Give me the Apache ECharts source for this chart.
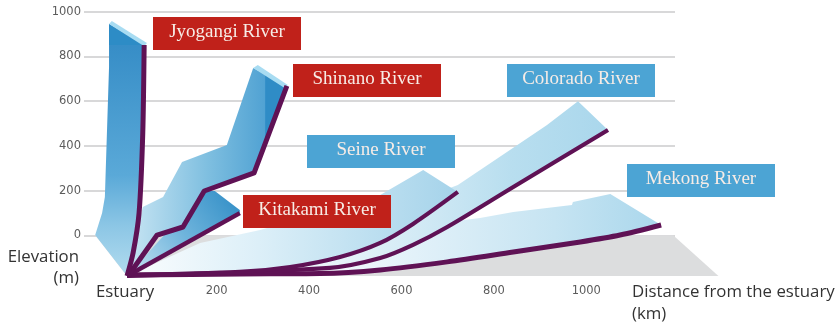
<!DOCTYPE html>
<html>
<head>
<meta charset="utf-8">
<style>html,body{margin:0;padding:0;background:#fff}#c{width:839px;height:327px}</style>
<script src="https://cdn.jsdelivr.net/npm/echarts@6/dist/echarts.min.js"></script>
</head>
<body>
<div id="c"></div>
<script>
// Axis ticks
const distanceTicks = [200, 400, 600, 800, 1000];
const elevationTicks = [0, 200, 400, 600, 800, 1000];

// River names for the tags
const riverNames = ['Jyogangi River', 'Shinano River', 'Kitakami River', 'Seine River', 'Colorado River', 'Mekong River'];

// Profiles as [km, m]; the front edge of each ribbon is the riverbed line
const jyogangiFront = [[6,-182],[19,-79],[32,100],[40,457],[43,851]];
const jyogangiBack = [[6,-182],[-63,1],[-48,100],[-42,171],[-33,753],[-33,945]];
const jyogangiCap = [[-33,945],[-27,958],[49,860],[43,846]];
const jyogangiPanel = [[-33,945],[43,851],[-33,851]];

const shinanoFront = [[8,-182],[71,1],[127,37],[173,198],[281,279],[352,668]];
const shinanoBack = [[8,-182],[40,127],[84,171],[125,328],[222,404],[279,748]];
const shinanoCap = [[279,748],[289,762],[354,672],[348,658]];
const shinanoPanel = [[305,717],[348,658],[352,668],[305,408]];

const kitakamiFront = [[6,-182],[250,99]];
const kitakamiBack = [[6,-182],[173,198],[196,198],[250,113]];

const seineFront = [[6,-178],[250,-164],[359,-142],[467,-97],[554,-34],[625,51],[722,194]];
const seineBack = [[6,-178],[45,-146],[164,-34],[294,24],[554,180],[647,292]];

const coloradoFront = [[6,-182],[445,-146],[554,-102],[625,-43],[699,37],[842,216],[1047,471]];
const coloradoBack = [[6,-182],[380,-43],[722,225],[850,403],[915,493],[982,600]];

const mekongFront = [[6,-178],[250,-173],[424,-171],[554,-155],[699,-119],[842,-75],[987,-30],[1073,1],[1162,46]];
const mekongBack = [[6,-178],[294,-66],[597,33],[770,77],[842,104],[969,136],[971,149],[1052,185]];

const floorPlane = [[-63,0],[1188,0],[1286,-182],[6,-182]];

// Fill helpers
const grad = (x, y, x2, y2, stops) => ({
  type: 'linear', x, y, x2, y2,
  colorStops: stops.map(([offset, color]) => ({ offset, color }))
});

// One closed polygon drawn through the axis scales
function polygon(points, fill, z) {
  return {
    type: 'custom', z, silent: true, animation: false,
    data: points,
    renderItem(params, api) {
      if (params.dataIndex !== 0) return null;
      return { type: 'polygon', shape: { points: points.map(p => api.coord(p)) }, style: { fill } };
    }
  };
}
const ribbon = (front, back, fill, z) => polygon(back.concat(front.slice().reverse()), fill, z);

// One riverbed line on top of the ribbons
function bed(data, width, smooth) {
  return {
    type: 'line', z: 20, silent: true, animation: false, symbol: 'none', data, smooth,
    lineStyle: { color: '#5f1255', width, cap: 'butt', join: 'round' }
  };
}

const red = '#c0211a', blue = '#4ca4d4';
const tagSpots = [
  [153, 17, red], [293, 64, red], [243, 195, red],
  [307, 135, blue], [507, 64, blue], [627, 164, blue]
];
const tags = riverNames.flatMap((name, i) => {
  const [x, y, fill] = tagSpots[i];
  return [
    { type: 'rect', z: 30, shape: { x, y, width: 148, height: 33 }, style: { fill } },
    { type: 'text', z: 31, style: { text: name, x: x + 74, y: y + 15, align: 'center', verticalAlign: 'middle',
      fill: '#f7ece6', font: '19px "Liberation Serif"' } }
  ];
});
const caption = (text, x, y, align) => ({
  type: 'text', z: 31,
  style: { text, x, y, align, verticalAlign: 'middle', fill: '#333', font: '16.8px "Open Sans"' }
});

const chart = echarts.init(document.getElementById('c'), null, { renderer: 'canvas' });
chart.setOption({
  animation: false,
  backgroundColor: '#fff',
  grid: { left: 84, right: 164, top: 11.7, bottom: 47 },
  xAxis: {
    type: 'value', min: -87.2, max: 1192,
    axisLine: { show: false }, axisTick: { show: false }, splitLine: { show: false },
    axisLabel: { customValues: distanceTicks, formatter: v => String(v), margin: 5, color: '#5c5c5c', fontSize: 11.5, fontFamily: 'DejaVu Sans' }
  },
  yAxis: {
    type: 'value', min: -200, max: 1000, interval: 200,
    axisLine: { show: false }, axisTick: { show: false },
    splitLine: { showMinLine: false, lineStyle: { color: '#cbcbcd', width: 1.6 } },
    axisLabel: { customValues: elevationTicks, formatter: v => String(v), margin: 3, color: '#5c5c5c', fontSize: 11.5, fontFamily: 'DejaVu Sans' }
  },
  series: [
    polygon(floorPlane, '#dcddde', 1),
    ribbon(mekongFront, mekongBack, grad(0, 0, 1, 0, [[0.25, '#ffffff'], [0.5, '#e6f3fa'], [0.8, '#c6e4f2'], [1, '#aad7ec']]), 2),
    ribbon(coloradoFront, coloradoBack, grad(0, 0, 1, 0, [[0.25, '#ffffff'], [0.6, '#d3eaf5'], [0.8, '#b8deef'], [1, '#aad7ec']]), 3),
    ribbon(seineFront, seineBack, grad(0, 0, 1, 0, [[0, '#fbfdfe'], [0.4, '#dceff8'], [1, '#a5d3ea']]), 4),
    ribbon(kitakamiFront, kitakamiBack, grad(0, 1, 1, 0, [[0, '#c8e5f3'], [0.5, '#6fb4dc'], [1, '#2e8cc5']]), 5),
    ribbon(shinanoFront, shinanoBack, grad(0, 0, 1, 0, [[0, '#c8e5f3'], [0.5, '#7fbfe0'], [1, '#3f97ce']]), 6),
    polygon(shinanoPanel, '#2f8cc6', 7),
    polygon(shinanoCap, '#a8dcf2', 8),
    ribbon(jyogangiFront, jyogangiBack, grad(0, 0, 0, 1, [[0, '#3189c4'], [0.6, '#5aa9d8'], [0.8, '#8cc6e5'], [1, '#b2dcef']]), 6),
    polygon(jyogangiPanel, '#2d8cc6', 7),
    polygon(jyogangiCap, '#a8dcf2', 8),
    bed(mekongFront, 5, 0.3),
    bed(coloradoFront, 4.2, 0.3),
    bed(seineFront, 4.2, 0.3),
    bed(kitakamiFront, 4.5, false),
    bed(shinanoFront, 5, false),
    bed(jyogangiFront, 5, 0.25)
  ],
  graphic: { elements: [
    ...tags,
    caption('Elevation', 79, 257, 'right'),
    caption('(m)', 79, 278, 'right'),
    caption('Estuary', 96, 292, 'left'),
    caption('Distance from the estuary', 632, 292, 'left'),
    caption('(km)', 632, 314, 'left')
  ] }
});
</script>
</body>
</html>
